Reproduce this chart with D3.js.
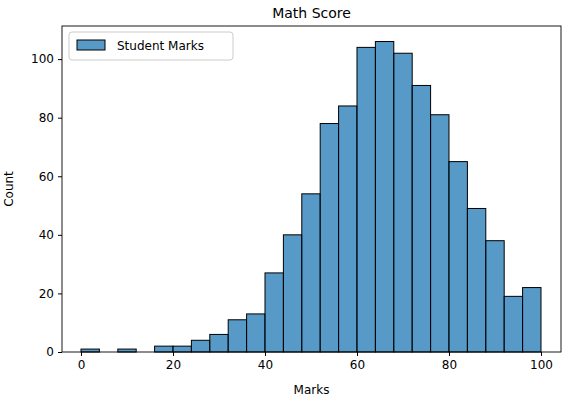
<!DOCTYPE html>
<html><head><meta charset="utf-8">
<script src="https://cdn.jsdelivr.net/npm/d3@7"></script>
<style>body{margin:0;background:#fff}text{font-family:"DejaVu Sans",sans-serif}</style>
</head><body><svg id="c" width="584" height="403"></svg>
<script>
const binStarts = [0,4,8,12,16,20,24,28,32,36,40,44,48,52,56,60,64,68,72,76,80,84,88,92,96];
const counts    = [1,0,1,0,2,2,4,6,11,13,27,40,54,78,84,104,106,102,91,81,65,49,38,19,22];
const binWidth = 4;
const xTicks = [0,20,40,60,80,100];
const yTicks = [0,20,40,60,80,100];

const svg = d3.select("#c");
const L=62,R=561,T=26,B=352;
const x = d3.scaleLinear().domain([-4.13,104.35]).range([L,R]);
const y = d3.scaleLinear().domain([0,111.3]).range([B,T]);

svg.append("g").selectAll("rect").data(binStarts).join("rect")
  .attr("x",(d)=>x(d)).attr("width",(d)=>x(d+binWidth)-x(d))
  .attr("y",(d,i)=>y(counts[i])).attr("height",(d,i)=>B-y(counts[i]))
  .attr("fill","rgba(31,119,180,0.75)").attr("stroke","#000").attr("stroke-width",1);

svg.append("rect").attr("x",L).attr("y",T).attr("width",R-L).attr("height",B-T)
  .attr("fill","none").attr("stroke","#000").attr("stroke-width",0.9);

const xa = svg.append("g").attr("transform",`translate(0,${B})`)
  .call(d3.axisBottom(x).tickValues(xTicks).tickSize(4).tickPadding(4));
const ya = svg.append("g").attr("transform",`translate(${L},0)`)
  .call(d3.axisLeft(y).tickValues(yTicks).tickSize(4).tickPadding(4));
[xa,ya].forEach(a=>{a.select(".domain").remove();a.selectAll("text").attr("font-size",12).attr("fill","#000").style("font-family","DejaVu Sans");});

svg.append("text").attr("x",(L+R)/2).attr("y",18).attr("text-anchor","middle").attr("font-size",14).text("Math Score");
svg.append("text").attr("x",(L+R)/2).attr("y",394).attr("text-anchor","middle").attr("font-size",12).text("Marks");
svg.append("text").attr("transform",`translate(13,${(T+B)/2}) rotate(-90)`).attr("text-anchor","middle").attr("font-size",12).text("Count");

const lg = svg.append("g");
lg.append("rect").attr("x",69).attr("y",32).attr("width",164).attr("height",28).attr("rx",3)
  .attr("fill","#fff").attr("fill-opacity",0.8).attr("stroke","#ccc");
lg.append("rect").attr("x",77).attr("y",40).attr("width",28).attr("height",10)
  .attr("fill","rgba(31,119,180,0.75)").attr("stroke","#000");
lg.append("text").attr("x",117).attr("y",50).attr("font-size",12).text("Student Marks");
</script></body></html>
